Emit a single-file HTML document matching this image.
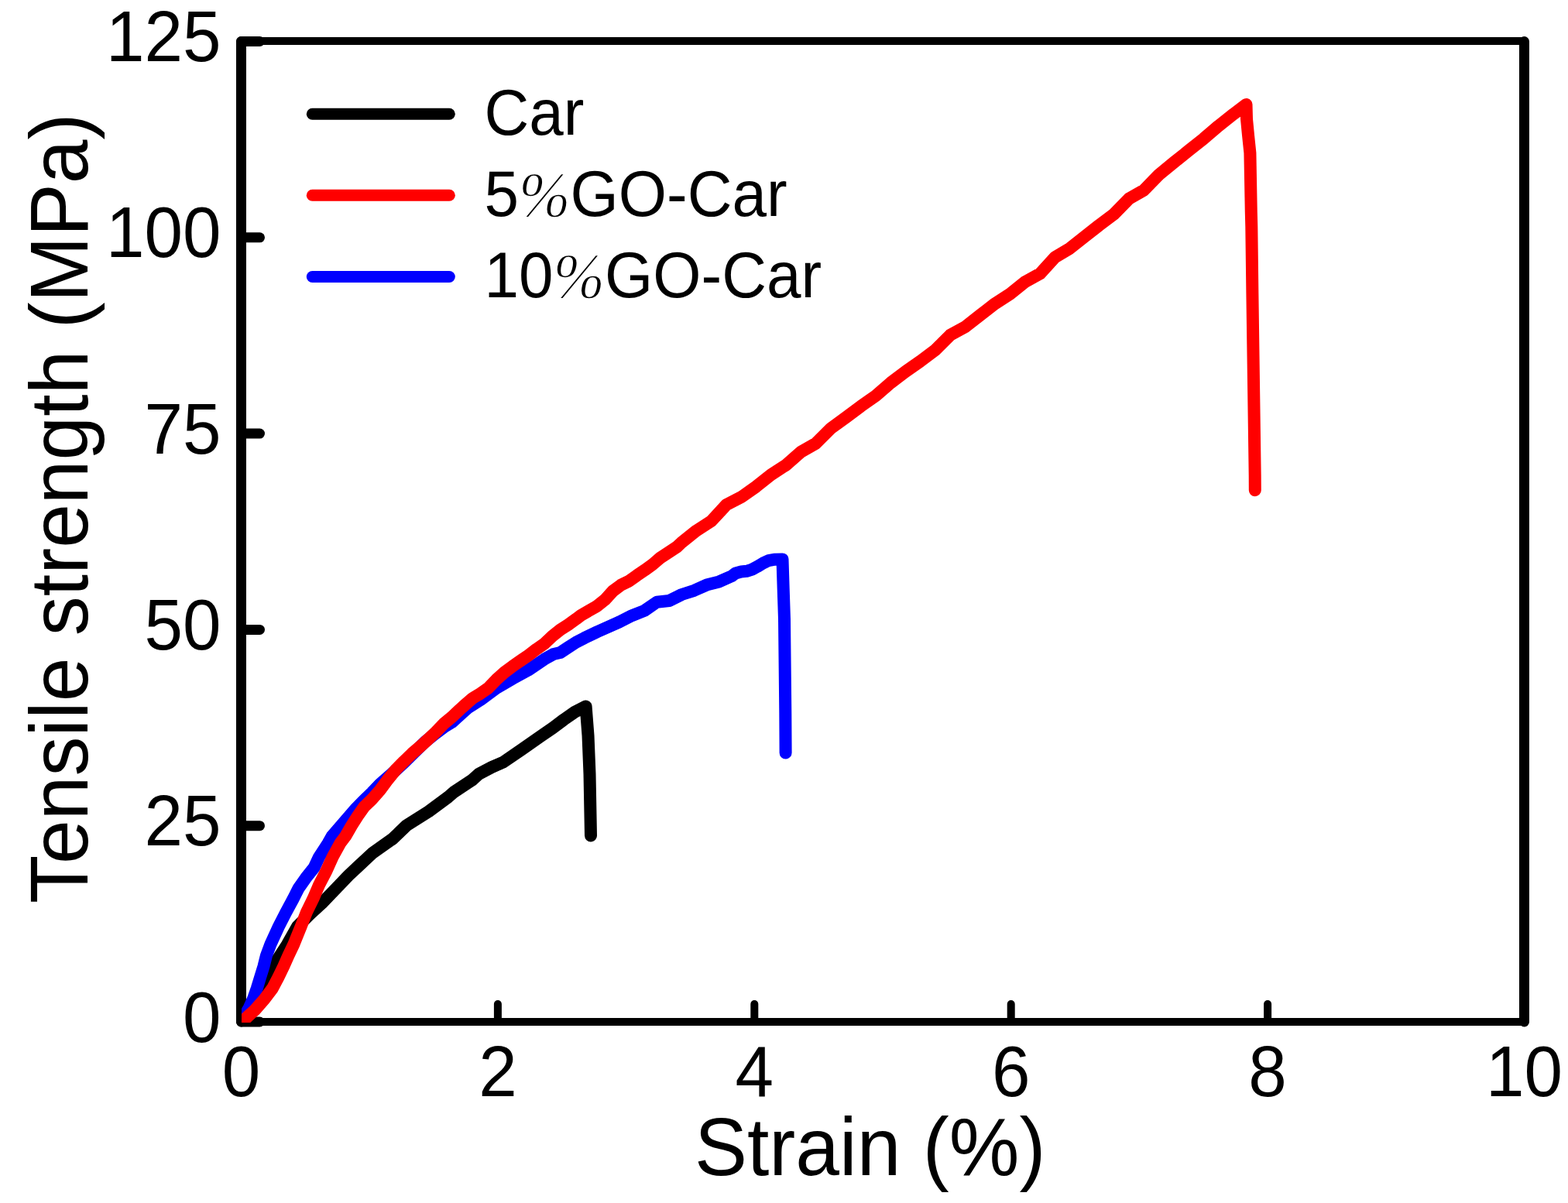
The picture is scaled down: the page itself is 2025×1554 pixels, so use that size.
<!DOCTYPE html>
<html><head><meta charset="utf-8"><title>Tensile strength vs Strain</title>
<style>
html,body{margin:0;padding:0;background:#fff;}
svg{display:block;}
text{font-family:"Liberation Sans",Arial,sans-serif;fill:#000;}
</style></head>
<body>
<svg width="2025" height="1554" viewBox="0 0 2025 1554">
<defs><clipPath id="pc"><rect x="312" y="53" width="1656" height="1268"/></clipPath></defs>
<rect width="2025" height="1554" fill="#fff"/>
<line x1="311.5" y1="53" x2="1968.5" y2="53" stroke="#000" stroke-width="10"/>
<line x1="311.5" y1="1320.0" x2="1968.5" y2="1320.0" stroke="#000" stroke-width="10"/>
<line x1="311.5" y1="53.5" x2="311.5" y2="1320.0" stroke="#000" stroke-width="13" stroke-linecap="round"/>
<line x1="1968.5" y1="53.5" x2="1968.5" y2="1320.0" stroke="#000" stroke-width="13" stroke-linecap="round"/>
<line x1="311.5" y1="1320.0" x2="335.5" y2="1320.0" stroke="#000" stroke-width="13" stroke-linecap="round"/>
<g transform="translate(285.5,1345.5) scale(1,1.041)"><text x="0" y="0" font-size="89" text-anchor="end">0</text></g>
<line x1="311.5" y1="1066.7" x2="335.5" y2="1066.7" stroke="#000" stroke-width="13" stroke-linecap="round"/>
<g transform="translate(285.5,1092.2) scale(1,1.041)"><text x="0" y="0" font-size="89" text-anchor="end">25</text></g>
<line x1="311.5" y1="813.4" x2="335.5" y2="813.4" stroke="#000" stroke-width="13" stroke-linecap="round"/>
<g transform="translate(285.5,838.9) scale(1,1.041)"><text x="0" y="0" font-size="89" text-anchor="end">50</text></g>
<line x1="311.5" y1="560.1" x2="335.5" y2="560.1" stroke="#000" stroke-width="13" stroke-linecap="round"/>
<g transform="translate(285.5,585.6) scale(1,1.041)"><text x="0" y="0" font-size="89" text-anchor="end">75</text></g>
<line x1="311.5" y1="306.8" x2="335.5" y2="306.8" stroke="#000" stroke-width="13" stroke-linecap="round"/>
<g transform="translate(285.5,332.3) scale(1,1.041)"><text x="0" y="0" font-size="89" text-anchor="end">100</text></g>
<line x1="311.5" y1="53.5" x2="335.5" y2="53.5" stroke="#000" stroke-width="13" stroke-linecap="round"/>
<g transform="translate(285.5,79.0) scale(1,1.041)"><text x="0" y="0" font-size="89" text-anchor="end">125</text></g>
<line x1="311.5" y1="1320.0" x2="311.5" y2="1297.0" stroke="#000" stroke-width="10" stroke-linecap="round"/>
<g transform="translate(311.5,1416.0) scale(1,1.041)"><text x="0" y="0" font-size="89" text-anchor="middle">0</text></g>
<line x1="642.9" y1="1320.0" x2="642.9" y2="1297.0" stroke="#000" stroke-width="10" stroke-linecap="round"/>
<g transform="translate(642.9,1416.0) scale(1,1.041)"><text x="0" y="0" font-size="89" text-anchor="middle">2</text></g>
<line x1="974.3" y1="1320.0" x2="974.3" y2="1297.0" stroke="#000" stroke-width="10" stroke-linecap="round"/>
<g transform="translate(974.3,1416.0) scale(1,1.041)"><text x="0" y="0" font-size="89" text-anchor="middle">4</text></g>
<line x1="1305.7" y1="1320.0" x2="1305.7" y2="1297.0" stroke="#000" stroke-width="10" stroke-linecap="round"/>
<g transform="translate(1305.7,1416.0) scale(1,1.041)"><text x="0" y="0" font-size="89" text-anchor="middle">6</text></g>
<line x1="1637.1" y1="1320.0" x2="1637.1" y2="1297.0" stroke="#000" stroke-width="10" stroke-linecap="round"/>
<g transform="translate(1637.1,1416.0) scale(1,1.041)"><text x="0" y="0" font-size="89" text-anchor="middle">8</text></g>
<line x1="1968.5" y1="1320.0" x2="1968.5" y2="1297.0" stroke="#000" stroke-width="10" stroke-linecap="round"/>
<g transform="translate(1968.5,1416.0) scale(1,1.041)"><text x="0" y="0" font-size="89" text-anchor="middle">10</text></g>
<g transform="translate(897.0,1517.5) scale(1,1.041)"><text x="0" y="0" font-size="102" text-anchor="start">Strain (%)</text></g>
<g transform="translate(113,1167) rotate(-90) scale(1,1.041)"><text x="0" y="0" font-size="102">Tensile strength (MPa)</text></g>
<g clip-path="url(#pc)" fill="none" stroke-width="16" stroke-linejoin="round" stroke-linecap="round">
<polyline points="312.0,1320.0 329.0,1292.0 345.0,1263.0 358.0,1240.0 371.0,1220.0 384.0,1197.0 400.0,1181.0 415.8,1166.6 427.0,1155.0 438.3,1143.2 450.0,1131.0 461.6,1120.1 481.0,1102.0 507.0,1083.6 525.5,1065.9 553.6,1048.2 578.6,1029.7 586.1,1023.2 609.9,1007.5 618.3,999.9 634.9,991.1 650.0,984.5 674.6,967.7 698.7,950.8 714.2,940.1 728.3,929.5 742.5,919.6 756.6,912.5 759.5,950.0 761.5,1000.0 763.0,1079.4" stroke="#000"/>
<polyline points="312.0,1320.0 317.0,1310.0 322.0,1301.4 326.8,1290.8 331.8,1276.6 336.1,1262.5 340.5,1248.3 344.0,1234.2 349.5,1219.6 359.8,1197.1 369.0,1179.1 378.7,1161.1 385.5,1147.6 395.0,1134.1 405.8,1120.5 412.1,1107.0 423.8,1089.0 428.9,1080.0 460.0,1044.1 470.0,1034.0 480.6,1023.6 490.9,1012.7 506.0,999.5 521.8,985.0 535.2,971.8 549.6,957.8 563.0,947.0 573.0,939.5 583.6,933.0 594.0,923.5 604.1,914.6 620.6,904.1 641.2,888.9 661.8,876.8 682.4,865.5 703.0,851.6 714.8,845.0 723.6,843.0 733.8,836.3 744.1,829.6 754.4,824.3 771.1,816.2 800.0,803.4 816.1,795.2 832.2,788.9 848.3,777.7 864.3,776.0 880.4,768.0 896.5,762.8 912.6,755.6 928.7,751.4 944.8,744.3 950.0,740.4 957.1,738.5 964.2,737.8 971.2,735.6 978.3,731.8 985.4,727.5 992.5,724.1 999.5,722.8 1010.5,722.4 1011.7,760.8 1013.0,800.0 1014.3,921.3 1014.6,972.5" stroke="#00f"/>
<polyline points="312.5,1320.5 320.0,1313.0 329.0,1304.9 341.4,1290.8 352.0,1276.6 359.4,1262.5 366.3,1248.3 372.5,1234.2 379.3,1220.0 388.6,1197.1 395.6,1179.1 404.4,1161.1 412.1,1143.1 421.5,1125.0 429.6,1107.0 439.5,1089.0 446.3,1080.0 453.9,1066.7 462.0,1054.0 470.0,1042.6 480.6,1032.3 490.9,1020.5 501.2,1006.6 511.5,993.9 521.8,983.4 532.1,973.4 542.4,964.6 552.7,955.3 563.0,945.5 573.3,934.7 583.6,926.3 593.8,916.6 600.0,911.0 610.3,902.0 620.6,895.8 630.9,888.6 641.2,877.8 651.5,868.5 661.8,860.8 672.1,853.6 682.4,846.6 692.7,838.7 703.0,831.5 713.3,821.7 723.6,813.5 733.8,807.0 744.1,799.6 750.3,794.9 760.6,788.9 770.9,783.0 781.2,774.8 791.5,763.5 801.8,755.8 812.1,750.8 822.4,743.4 832.7,736.4 843.0,729.0 853.3,720.2 863.6,713.5 873.8,706.8 880.0,701.0 899.3,685.6 918.6,673.1 937.9,652.2 957.2,642.2 976.5,628.6 995.8,613.2 1015.1,600.7 1034.4,583.7 1053.7,572.7 1073.0,553.4 1092.4,539.3 1111.7,524.8 1131.0,511.3 1150.3,494.5 1169.3,480.1 1188.6,466.6 1207.9,452.1 1227.2,432.8 1246.5,422.2 1265.8,407.1 1285.1,392.2 1304.4,379.7 1323.7,364.2 1343.1,353.6 1362.4,332.4 1381.7,320.8 1401.0,305.5 1419.3,291.1 1438.6,276.6 1457.9,256.8 1477.2,245.8 1496.5,225.9 1515.8,210.0 1535.1,194.6 1554.4,179.2 1573.7,162.7 1593.1,147.3 1609.5,135.0 1610.0,153.8 1612.1,175.6 1614.4,197.5 1615.0,230.4 1615.8,274.1 1616.3,293.0 1617.4,380.0 1620.7,614.0 1620.8,633.2" stroke="#f00"/>
</g>
<line x1="403.3" y1="147.2" x2="580.3" y2="147.2" stroke="#000" stroke-width="15" stroke-linecap="round"/>
<line x1="403.3" y1="252.2" x2="580.3" y2="252.2" stroke="#f00" stroke-width="15" stroke-linecap="round"/>
<line x1="403.3" y1="357.5" x2="580.3" y2="357.5" stroke="#00f" stroke-width="15" stroke-linecap="round"/>
<g transform="translate(625.5,174.0) scale(1,1.041)"><text x="0" y="0" font-size="80" text-anchor="start">Car</text></g>
<g transform="translate(625.5,279.0) scale(1,1.041)"><text x="0" y="0" font-size="80" text-anchor="start">5<tspan font-family="Liberation Serif, serif" font-style="italic" stroke="#fff" stroke-width="1.4">%</tspan>GO-Car</text></g>
<g transform="translate(625.5,384.0) scale(1,1.041)"><text x="0" y="0" font-size="80" text-anchor="start">10<tspan font-family="Liberation Serif, serif" font-style="italic" stroke="#fff" stroke-width="1.4">%</tspan>GO-Car</text></g>
</svg>
</body></html>
